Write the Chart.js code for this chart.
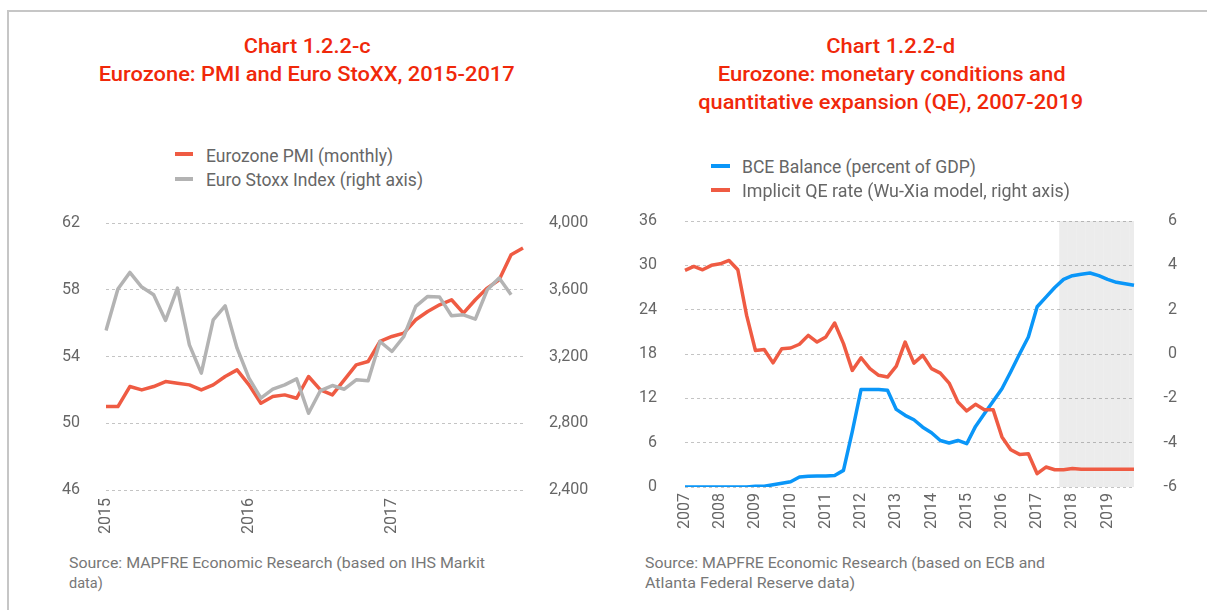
<!DOCTYPE html>
<html><head><meta charset="utf-8">
<script src="https://cdn.jsdelivr.net/npm/chart.js@4.4.1/dist/chart.umd.min.js"></script>
<style>
html,body{margin:0;padding:0;background:#fff;}
#page{position:relative;width:1207px;height:610px;overflow:hidden;font-family:Roboto,'Noto Sans',sans-serif;}
.frame{position:absolute;left:7px;top:10px;width:1300px;height:700px;border-left:2px solid #c6c6c6;border-top:2px solid #c6c6c6;}
.t{position:absolute;white-space:nowrap;line-height:1;display:inline-block;}
.title{color:#f0280a;font-weight:500;font-size:21px;}
.leg{color:#666;font-size:18px;}
.src{color:#777;font-size:14.5px;}
.sw{position:absolute;height:4px;}
canvas{position:absolute;}
</style></head><body>
<div id="page">
  <div class="frame"></div>
  <canvas id="c1" width="580" height="340" style="left:20px;top:200px;"></canvas>
  <canvas id="c2" width="600" height="340" style="left:600px;top:200px;"></canvas>
</div>
<script>
// ---------- Left chart data ----------
const leftTitle = ['Chart 1.2.2-c', 'Eurozone: PMI and Euro StoXX, 2015-2017'];
const leftYears = ['2015', '2016', '2017'];
const monthNames = ['Jan','Feb','Mar','Apr','May','Jun','Jul','Aug','Sep','Oct','Nov','Dec'];
const pmiLabel = 'Eurozone PMI (monthly)';
const stoxxLabel = 'Euro Stoxx Index (right axis)';
const pmi = [51.0,51.0,52.2,52.0,52.2,52.5,52.4,52.3,52.0,52.3,52.8,53.2,
             52.3,51.2,51.6,51.7,51.5,52.8,52.0,51.7,52.6,53.5,53.7,54.9,
             55.2,55.4,56.2,56.7,57.1,57.4,56.6,57.4,58.1,58.6,60.1,60.5];
const stoxx = [3356,3604,3704,3616,3570,3416,3610,3270,3100,3420,3504,3250,
               3070,2950,3004,3030,3066,2860,2996,3026,3004,3060,3054,3290,
               3230,3320,3500,3560,3556,3444,3450,3424,3600,3670,3570,null];
const leftAxisTicks = [46, 50, 54, 58, 62];
const rightAxisTicks1 = [2400, 2800, 3200, 3600, 4000];
const leftSource = ['Source: MAPFRE Economic Research (based on IHS Markit', 'data)'];

// ---------- Right chart data ----------
const rightTitle = ['Chart 1.2.2-d', 'Eurozone: monetary conditions and', 'quantitative expansion (QE), 2007-2019'];
const rightYears = ['2007','2008','2009','2010','2011','2012','2013','2014','2015','2016','2017','2018','2019'];
const quarterNames = ['Q1','Q2','Q3','Q4'];
const bceLabel = 'BCE Balance (percent of GDP)';
const wuxiaLabel = 'Implicit QE rate (Wu-Xia model, right axis)';
const bce = [0,0,0,0,0,0,0,0,0.1,0.1,0.3,0.5,0.7,1.35,1.45,1.5,1.5,1.55,2.25,7.5,
             13.2,13.2,13.2,13.1,10.5,9.7,9.1,8.1,7.35,6.3,5.95,6.3,5.86,8.2,9.9,11.6,
             13.3,15.6,18.0,20.3,24.4,25.7,27.0,28.1,28.6,28.8,28.96,28.6,28.1,27.7,27.5,27.3];
const wuxia = [3.77,3.95,3.8,4.0,4.07,4.22,3.8,1.74,0.16,0.2,-0.4,0.24,0.27,0.44,0.84,0.54,
               0.77,1.4,0.47,-0.74,-0.17,-0.66,-0.96,-1.04,-0.55,0.54,-0.41,-0.06,-0.66,-0.86,
               -1.31,-2.17,-2.57,-2.27,-2.51,-2.51,-3.74,-4.32,-4.53,-4.5,-5.4,-5.1,-5.22,-5.22,
               -5.17,-5.2,-5.2,-5.2,-5.2,-5.2,-5.2,-5.2];
const forecastFrom = '2017Q4'; // shaded forecast period
const rightAxisTicksL = [0, 6, 12, 18, 24, 30, 36];
const rightAxisTicksR = [-6, -4, -2, 0, 2, 4, 6];
const rightSource = ['Source: MAPFRE Economic Research (based on ECB and', 'Atlanta Federal Reserve data)'];

// ---------- colours ----------
const RED = '#ef5b43', GREY = '#b3b3b3', BLUE = '#0a96f8';
const GRID = '#c4c4c4', TXT = '#666666', CLEAR = 'rgba(0,0,0,0)';

// categories
const leftCategories = [];
leftYears.forEach(y => monthNames.forEach(m => leftCategories.push(m + ' ' + y)));
const rightCategories = [];
rightYears.forEach(y => quarterNames.forEach(q => rightCategories.push(y + q)));
const shadeIdx = rightCategories.indexOf(forecastFrom);
const shade = rightCategories.map((c, i) => i >= shadeIdx ? 1 : null);

// ---------- HTML text helpers ----------
const page = document.getElementById('page');
function addText(txt, cls, x, yc, fs, targetW, anchor) {
  const el = document.createElement('span');
  el.className = 't ' + cls;
  el.textContent = txt;
  page.appendChild(el);
  const w = el.getBoundingClientRect().width;
  const s = targetW ? targetW / w : 1;
  el.style.top = (yc - fs / 2) + 'px';
  if (anchor === 'center') {
    el.style.left = (x - w / 2) + 'px';
    el.style.transformOrigin = '50% 50%';
  } else {
    el.style.left = x + 'px';
    el.style.transformOrigin = '0 50%';
  }
  el.style.transform = 'scaleX(' + s + ')';
}
function addSwatch(color, x, yc, w) {
  const d = document.createElement('div');
  d.className = 'sw';
  d.style.background = color;
  d.style.left = x + 'px';
  d.style.width = w + 'px';
  d.style.top = (yc - 2) + 'px';
  page.appendChild(d);
}

// titles
addText(leftTitle[0], 'title', 307, 46, 21, 127, 'center');
addText(leftTitle[1], 'title', 307, 74.5, 21, 416, 'center');
addText(rightTitle[0], 'title', 891, 46, 21, 129, 'center');
addText(rightTitle[1], 'title', 892, 74.5, 21, 348, 'center');
addText(rightTitle[2], 'title', 891, 102, 21, 385, 'center');
// legends
addSwatch(RED, 175, 154, 18); addText(pmiLabel, 'leg', 206, 155.5, 18, 187);
addSwatch(GREY, 175, 178.5, 18); addText(stoxxLabel, 'leg', 206, 179.5, 18, 217);
addSwatch(BLUE, 711, 166, 19); addText(bceLabel, 'leg', 742, 166.5, 18, 234);
addSwatch(RED, 711, 190, 19); addText(wuxiaLabel, 'leg', 742, 191, 18, 328);
// sources
addText(leftSource[0], 'src', 69, 564, 14.5, 416);
addText(leftSource[1], 'src', 69, 584, 14.5, null);
addText(rightSource[0], 'src', 645, 564, 14.5, 400);
addText(rightSource[1], 'src', 645, 584, 14.5, 210);

// ---------- Chart.js ----------
Chart.defaults.font.family = 'Roboto';
Chart.defaults.font.size = 16;
Chart.defaults.color = TXT;
Chart.defaults.animation = false;

const lineDs = (label, data, color, axis) => ({
  type: 'line', label, data, borderColor: color, backgroundColor: color,
  borderWidth: 3.5, pointRadius: 0, tension: 0, yAxisID: axis,
  borderJoinStyle: 'round', borderCapStyle: 'butt', order: 0, spanGaps: false
});

new Chart(document.getElementById('c1'), {
  type: 'line',
  data: {
    labels: leftCategories,
    datasets: [
      lineDs(stoxxLabel, stoxx, GREY, 'y2'),
      lineDs(pmiLabel, pmi, RED, 'y')
    ]
  },
  options: {
    responsive: false,
    layout: { padding: { top: 23, left: 0, right: 0, bottom: 0 } },
    plugins: { legend: { display: false }, tooltip: { enabled: false }, title: { display: false } },
    scales: {
      x: {
        type: 'category', offset: false,
        grid: { display: false, drawTicks: true, tickLength: 8 }, border: { display: false },
        ticks: {
          autoSkip: false, minRotation: 90, maxRotation: 90, padding: 0,
          callback: (v, i) => (i % 12 === 0 ? leftYears[i / 12] : '')
        },
        afterFit: s => { s.height = 50; }
      },
      y: {
        position: 'left', min: leftAxisTicks[0], max: leftAxisTicks[leftAxisTicks.length - 1],
        afterBuildTicks: s => { s.ticks = leftAxisTicks.map(v => ({ value: v })); },
        grid: { color: GRID, lineWidth: 1, drawTicks: true, tickLength: 26, tickColor: CLEAR },
        border: { display: false, dash: [3, 3] },
        ticks: { padding: 0 },
        afterFit: s => { s.width = 86; }
      },
      y2: {
        position: 'right', min: rightAxisTicks1[0], max: rightAxisTicks1[rightAxisTicks1.length - 1],
        afterBuildTicks: s => { s.ticks = rightAxisTicks1.map(v => ({ value: v })); },
        grid: { drawOnChartArea: false, drawTicks: true, tickLength: 26, tickColor: CLEAR },
        border: { display: false },
        ticks: { padding: 0, callback: v => v.toLocaleString('en-US') },
        afterFit: s => { s.width = 77; }
      }
    }
  }
});

new Chart(document.getElementById('c2'), {
  type: 'line',
  data: {
    labels: rightCategories,
    datasets: [
      lineDs(wuxiaLabel, wuxia, RED, 'y2'),
      lineDs(bceLabel, bce, BLUE, 'y'),
      {
        type: 'bar', label: 'forecast', data: shade, yAxisID: 'yS',
        backgroundColor: 'rgba(0,0,0,0.075)', borderWidth: 0, inflateAmount: 0,
        barPercentage: 1, categoryPercentage: 1, order: 5, clip: 0
      }
    ]
  },
  options: {
    responsive: false,
    layout: { padding: { top: 21, left: 0, right: 23, bottom: 0 } },
    plugins: { legend: { display: false }, tooltip: { enabled: false }, title: { display: false } },
    scales: {
      x: {
        type: 'category', offset: false,
        grid: { display: false, drawTicks: true, tickLength: 6 }, border: { display: false },
        ticks: {
          autoSkip: false, minRotation: 90, maxRotation: 90, padding: 0,
          callback: (v, i) => (i % 4 === 0 ? rightYears[i / 4] : '')
        },
        afterFit: s => { s.height = 53; }
      },
      y: {
        position: 'left', min: rightAxisTicksL[0], max: rightAxisTicksL[rightAxisTicksL.length - 1],
        afterBuildTicks: s => { s.ticks = rightAxisTicksL.map(v => ({ value: v })); },
        grid: { color: GRID, lineWidth: 1, drawTicks: true, tickLength: 28, tickColor: CLEAR },
        border: { display: false, dash: [3, 3] },
        ticks: { padding: 0 },
        afterFit: s => { s.width = 85; }
      },
      y2: {
        position: 'right', min: rightAxisTicksR[0], max: rightAxisTicksR[rightAxisTicksR.length - 1],
        afterBuildTicks: s => { s.ticks = rightAxisTicksR.map(v => ({ value: v })); },
        grid: { drawOnChartArea: false, drawTicks: false },
        border: { display: false },
        ticks: { padding: 0, crossAlign: 'far' },
        afterFit: s => { s.width = 43; }
      },
      yS: { display: false, min: 0, max: 1 }
    }
  }
});
</script>
</body></html>
